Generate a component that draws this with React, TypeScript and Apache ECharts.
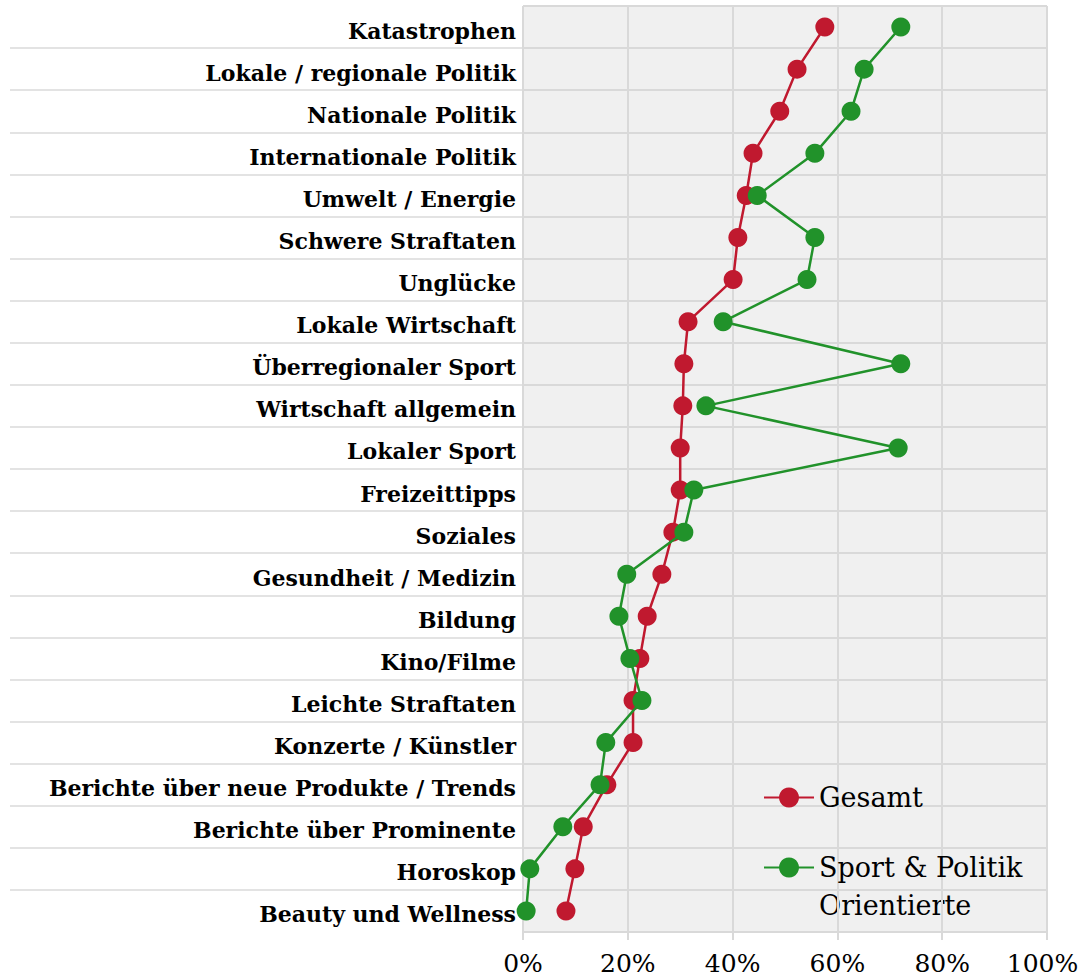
import React, { useEffect, useRef } from "react";
import * as echarts from "echarts";

const categories = [
  "Katastrophen",
  "Lokale / regionale Politik",
  "Nationale Politik",
  "Internationale Politik",
  "Umwelt / Energie",
  "Schwere Straftaten",
  "Unglücke",
  "Lokale Wirtschaft",
  "Überregionaler Sport",
  "Wirtschaft allgemein",
  "Lokaler Sport",
  "Freizeittipps",
  "Soziales",
  "Gesundheit / Medizin",
  "Bildung",
  "Kino/Filme",
  "Leichte Straftaten",
  "Konzerte / Künstler",
  "Berichte über neue Produkte / Trends",
  "Berichte über Prominente",
  "Horoskop",
  "Beauty und Wellness",
];

const gesamt = [
  57.6, 52.3, 49.0, 43.9, 42.6, 41.0, 40.1, 31.5, 30.7, 30.5, 30.0, 30.0, 28.6,
  26.5, 23.7, 22.3, 21.0, 21.0, 16.0, 11.5, 9.9, 8.2,
];

const sportPolitik = [
  72.1, 65.1, 62.6, 55.7, 44.7, 55.7, 54.2, 38.2, 72.1, 34.9, 71.6, 32.6, 30.7,
  19.8, 18.3, 20.4, 22.7, 15.8, 14.7, 7.6, 1.3, 0.6,
];

const seriesNames = ["Gesamt", "Sport & Politik"];
const legendExtraLine = "Orientierte";

const RED = "#c0192f";
const GREEN = "#21922a";
const FONT = "DejaVu Serif";

const GRID_TOP = 6;
const GRID_BOTTOM = 47;
const CHART_H = 979;
const ROW_H = (CHART_H - GRID_TOP - GRID_BOTTOM) / categories.length;

export default function App() {
  const ref = useRef<HTMLDivElement>(null);

  useEffect(() => {
    document.body.style.margin = "0";
    if (!ref.current) return;
    const chart = echarts.init(ref.current, undefined, { renderer: "svg" });
    chart.setOption({
      animation: false,
      backgroundColor: "#ffffff",
      grid: [
        {
          left: 523,
          right: 33,
          top: GRID_TOP,
          bottom: GRID_BOTTOM,
          show: true,
          backgroundColor: "#f0f0f0",
          borderWidth: 0,
          containLabel: false,
          outerBoundsMode: "none",
        },
        {
          left: 10,
          width: 513,
          top: GRID_TOP + ROW_H,
          bottom: GRID_BOTTOM + ROW_H,
          show: false,
          containLabel: false,
          outerBoundsMode: "none",
        },
      ],
      xAxis: [
        {
          type: "value",
          gridIndex: 0,
          min: 0,
          max: 100,
          interval: 20,
          axisLine: { show: false },
          axisTick: {
            show: true,
            length: 8,
            lineStyle: { color: "#d9d9d9", width: 2 },
          },
          splitLine: { show: true, lineStyle: { color: "#d9d9d9", width: 2 } },
          axisLabel: {
            formatter: (v: number) => (v === 100 ? `{r|${v}%}` : `${v}%`),
            color: "#000",
            fontFamily: FONT,
            fontSize: 25,
            margin: 19,
            rich: {
              r: {
                color: "#000",
                fontFamily: FONT,
                fontSize: 25,
                padding: [0, 9, 0, 0],
              },
            },
          },
        },
        {
          type: "value",
          gridIndex: 1,
          show: false,
        },
      ],
      yAxis: [
        {
          type: "category",
          gridIndex: 0,
          inverse: true,
          data: categories,
          boundaryGap: true,
          axisLine: { show: false },
          axisTick: { show: false },
          splitLine: { show: true, lineStyle: { color: "#d9d9d9", width: 2 } },
          axisLabel: {
            formatter: (v: string) => `{a|${v}}`,
            margin: 7,
            rich: {
              a: {
                color: "#000",
                fontFamily: FONT,
                fontWeight: "bold",
                fontSize: 22,
                padding: [7, 0, 0, 0],
              },
            },
          },
        },
        {
          type: "value",
          gridIndex: 1,
          min: 0,
          max: categories.length - 2,
          interval: 1,
          axisLine: { show: false },
          axisTick: { show: false },
          axisLabel: { show: false },
          splitLine: { show: true, lineStyle: { color: "#e3e3e3", width: 2 } },
        },
      ],
      legend: {
        orient: "vertical",
        left: 763,
        top: 784,
        padding: 0,
        itemWidth: 50,
        itemHeight: 25,
        itemGap: 43,
        textStyle: { color: "#000", fontFamily: FONT, fontSize: 27 },
        data: seriesNames,
      },
      graphic: [
        {
          type: "text",
          left: 819,
          top: 892,
          style: {
            text: legendExtraLine,
            fill: "#000",
            font: `27px "${FONT}"`,
          },
        },
      ],
      series: [
        {
          name: seriesNames[0],
          type: "line",
          xAxisIndex: 0,
          yAxisIndex: 0,
          data: gesamt,
          symbol: "circle",
          symbolSize: 19,
          color: RED,
          lineStyle: { color: RED, width: 2.5 },
          itemStyle: { color: RED },
          z: 2,
        },
        {
          name: seriesNames[1],
          type: "line",
          xAxisIndex: 0,
          yAxisIndex: 0,
          data: sportPolitik,
          symbol: "circle",
          symbolSize: 19,
          color: GREEN,
          lineStyle: { color: GREEN, width: 2.5 },
          itemStyle: { color: GREEN },
          z: 3,
        },
      ],
    });
    return () => chart.dispose();
  }, []);

  return <div ref={ref} style={{ width: 1080, height: 979 }} />;
}
